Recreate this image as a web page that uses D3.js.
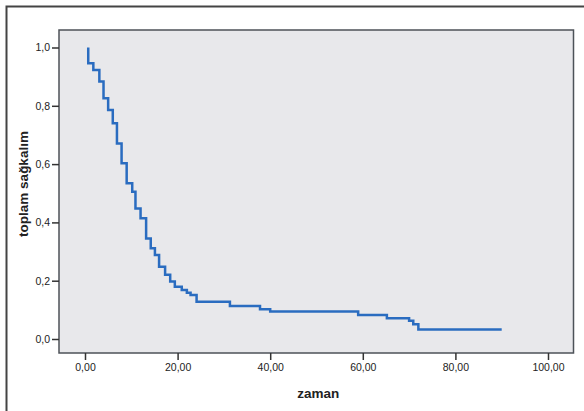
<!DOCTYPE html>
<html>
<head>
<meta charset="utf-8">
<script src="https://cdn.jsdelivr.net/npm/d3@7"></script>
<style>
  html, body { margin: 0; padding: 0; background: #fff; }
  svg { display: block; font-family: "Liberation Sans", Arial, sans-serif; }
</style>
</head>
<body>
<div id="chart"></div>
<script>
// Kaplan-Meier steps
var times = [0.7, 1.8, 3.1, 4.0, 5.0, 6.0, 6.9, 7.9, 9.0, 10.2, 10.9, 12.0, 13.2, 14.2, 15.1,
             16.0, 17.3, 18.4, 19.4, 20.9, 22.0, 22.8, 24.1, 31.3, 37.8, 40.0, 59.0, 65.2,
             70.0, 70.9, 72.0];
var survival = [0.946, 0.923, 0.883, 0.826, 0.786, 0.740, 0.671, 0.603, 0.534, 0.505, 0.448,
                0.414, 0.345, 0.311, 0.288, 0.248, 0.220, 0.197, 0.179, 0.168, 0.159, 0.151,
                0.128, 0.113, 0.102, 0.094, 0.082, 0.071, 0.063, 0.051, 0.033];
var lastTime = 90;
var xTicks = [0, 20, 40, 60, 80, 100];
var yTicks = [0, 0.2, 0.4, 0.6, 0.8, 1.0];

var W = 584, H = 411;
var svg = d3.select('#chart').append('svg')
    .attr('width', W)
    .attr('height', H);

// outer frame (only left and top edges show)
svg.append('path')
    .attr('d', 'M6.5,' + H + 'V6.5H' + W)
    .attr('fill', 'none')
    .attr('stroke', '#444')
    .attr('stroke-width', 2);

var box = {left: 59, top: 30, right: 573.5, bottom: 353};

var x = d3.scaleLinear().domain([0, 100]).range([85, 548]);
var y = d3.scaleLinear().domain([0, 1]).range([339, 47.5]);

svg.append('rect')
    .attr('x', box.left).attr('y', box.top)
    .attr('width', box.right - box.left)
    .attr('height', box.bottom - box.top)
    .attr('fill', '#e8e8eb')
    .attr('stroke', '#4d5258')
    .attr('stroke-width', 1.5);

var comma = function (f) { return function (d) { return d3.format(f)(d).replace('.', ','); }; };

var yAxis = svg.append('g')
    .attr('transform', 'translate(' + box.left + ',0)')
    .call(d3.axisLeft(y).tickValues(yTicks).tickSize(7).tickPadding(2).tickFormat(comma('.1f')));
var xAxis = svg.append('g')
    .attr('transform', 'translate(0,' + box.bottom + ')')
    .call(d3.axisBottom(x).tickValues(xTicks).tickSize(7).tickPadding(4).tickFormat(comma('.2f')));

[yAxis, xAxis].forEach(function (g) {
  g.select('.domain').remove();
  g.selectAll('.tick line').attr('stroke', '#333').attr('stroke-width', 1.5);
  g.selectAll('.tick text').attr('fill', '#222').style('font-size', '10.5px');
});

// step curve
var pts = [{t: times[0], s: 1}];
times.forEach(function (t, i) { pts.push({t: t, s: survival[i]}); });
pts.push({t: lastTime, s: survival[survival.length - 1]});

var line = d3.line()
    .x(function (d) { return x(d.t); })
    .y(function (d) { return y(d.s); })
    .curve(d3.curveStepAfter);

svg.append('path')
    .datum(pts)
    .attr('d', line)
    .attr('fill', 'none')
    .attr('stroke', '#2a6cc0')
    .attr('stroke-width', 2.5);

// axis titles
svg.append('text')
    .attr('x', (box.left + box.right) / 2 + 2)
    .attr('y', 398)
    .attr('text-anchor', 'middle')
    .style('font-size', '13.5px')
    .style('font-weight', 'bold')
    .attr('fill', '#222')
    .text('zaman');

svg.append('text')
    .attr('transform', 'translate(28,184) rotate(-90)')
    .attr('text-anchor', 'middle')
    .style('font-size', '13.5px')
    .style('font-weight', 'bold')
    .attr('fill', '#222')
    .text('toplam sağkalım');
</script>
</body>
</html>
